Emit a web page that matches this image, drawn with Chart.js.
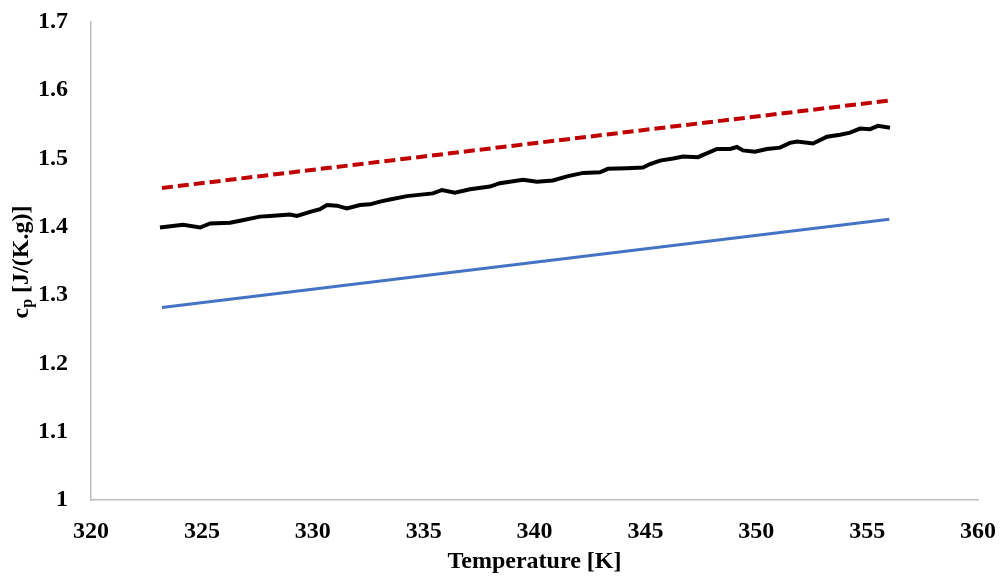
<!DOCTYPE html>
<html>
<head>
<meta charset="utf-8">
<script src="https://cdn.jsdelivr.net/npm/chart.js@4/dist/chart.umd.min.js"></script>
<style>
  html, body { margin: 0; padding: 0; background: #fff; }
  #wrap { width: 1000px; height: 577px; position: relative; }
</style>
</head>
<body>
<div id="wrap"><canvas id="chart"></canvas></div>
<script>
// measured curve (black)
const tempMeasured = [323.11, 324.15, 324.92, 325.37, 326.27, 326.72, 327.62, 328.07, 328.97, 329.29,
  329.88, 330.33, 330.64, 331.09, 331.54, 332.13, 332.58, 333.03, 333.48, 334.25,
  335.42, 335.83, 336.41, 337.09, 337.99, 338.44, 339.48, 340.11, 340.83, 341.47,
  342.19, 342.95, 343.31, 344.17, 344.89, 345.21, 345.66, 346.25, 346.70, 347.37,
  348.23, 348.82, 349.13, 349.40, 349.94, 350.48, 351.07, 351.52, 351.84, 352.56,
  353.19, 353.78, 354.23, 354.68, 355.13, 355.49, 356.03];
const cpMeasured = [1.399, 1.403, 1.399, 1.405, 1.406, 1.409, 1.415, 1.416, 1.418, 1.416,
  1.422, 1.426, 1.432, 1.431, 1.427, 1.432, 1.433, 1.437, 1.440, 1.445,
  1.449, 1.454, 1.450, 1.455, 1.459, 1.464, 1.469, 1.466, 1.468, 1.474,
  1.479, 1.480, 1.485, 1.486, 1.487, 1.492, 1.497, 1.500, 1.503, 1.502,
  1.514, 1.514, 1.517, 1.512, 1.510, 1.514, 1.516, 1.523, 1.525, 1.522,
  1.532, 1.535, 1.538, 1.544, 1.543, 1.548, 1.545];

// model lines
const tempModel = [323.2, 356.0];
const cpUpper = [1.457, 1.585];  // red dashed
const cpLower = [1.282, 1.411];  // blue

const xTicks = [320, 325, 330, 335, 340, 345, 350, 355, 360];
const yTicks = [1, 1.1, 1.2, 1.3, 1.4, 1.5, 1.6, 1.7];

const FONT = '"Liberation Serif", "DejaVu Serif", serif';

function pts(xs, ys) { return xs.map((x, i) => ({ x: x, y: ys[i] })); }

// axis titles (y title needs a subscript, so draw both by hand)
const axisTitles = {
  id: 'axisTitles',
  afterDraw(chart) {
    const ctx = chart.ctx, area = chart.chartArea;
    ctx.save();
    ctx.fillStyle = '#000';
    ctx.font = 'bold 24px ' + FONT;
    ctx.textAlign = 'center';
    ctx.textBaseline = 'middle';
    ctx.fillText('Temperature [K]', (area.left + area.right) / 2, 562);

    // y title, rotated
    ctx.translate(20, 262);
    ctx.rotate(-Math.PI / 2);
    const big = 'bold 24px ' + FONT, small = 'bold 16px ' + FONT;
    ctx.font = big; const wc = ctx.measureText('c').width;
    ctx.font = small; const wp = ctx.measureText('p').width;
    ctx.font = big; const wr = ctx.measureText(' [J/(K.g)]').width;
    let x = -(wc + wp + wr) / 2;
    ctx.textAlign = 'left';
    ctx.textBaseline = 'alphabetic';
    ctx.font = big; ctx.fillText('c', x, 8); x += wc;
    ctx.font = small; ctx.fillText('p', x, 12); x += wp;
    ctx.font = big; ctx.fillText(' [J/(K.g)]', x, 8);
    ctx.restore();
  }
};

new Chart(document.getElementById('chart'), {
  type: 'scatter',
  data: {
    datasets: [
      {
        label: 'upper',
        data: pts(tempModel, cpUpper),
        showLine: true,
        borderColor: '#C00000',
        borderWidth: 4,
        borderDash: [11, 5],
        pointRadius: 0
      },
      {
        label: 'measured',
        data: pts(tempMeasured, cpMeasured),
        showLine: true,
        borderColor: '#000000',
        borderWidth: 4,
        pointRadius: 0,
        tension: 0
      },
      {
        label: 'lower',
        data: pts(tempModel, cpLower),
        showLine: true,
        borderColor: '#4472C4',
        borderWidth: 3,
        pointRadius: 0
      }
    ]
  },
  options: {
    responsive: true,
    maintainAspectRatio: false,
    animation: false,
    layout: { padding: { top: 22, right: 22, left: 0, bottom: 0 } },
    plugins: { legend: { display: false }, tooltip: { enabled: false } },
    scales: {
      x: {
        type: 'linear',
        min: 320, max: 360,
        afterBuildTicks(scale) { scale.ticks = xTicks.map(v => ({ value: v })); },
        afterFit(scale) {
          scale.height = 77;
          scale.paddingLeft = 0; scale.paddingRight = 0;
        },
        grid: { display: false, drawTicks: false },
        border: { display: true, color: '#BFBFBF', width: 1.5 },
        ticks: {
          color: '#000', padding: 17,
          font: { family: FONT, size: 24, weight: 'bold' },
          maxRotation: 0
        }
      },
      y: {
        type: 'linear',
        min: 1, max: 1.7,
        afterBuildTicks(scale) { scale.ticks = yTicks.map(v => ({ value: v })); },
        afterFit(scale) {
          scale.width = 91;
          scale.paddingTop = 0; scale.paddingBottom = 0;
        },
        grid: { display: false, drawTicks: false },
        border: { display: true, color: '#BFBFBF', width: 1.5 },
        ticks: {
          color: '#000', padding: 23,
          font: { family: FONT, size: 24, weight: 'bold' },
          callback: v => String(Number(v.toFixed(1)))
        }
      }
    }
  },
  plugins: [axisTitles]
});
</script>
</body>
</html>
